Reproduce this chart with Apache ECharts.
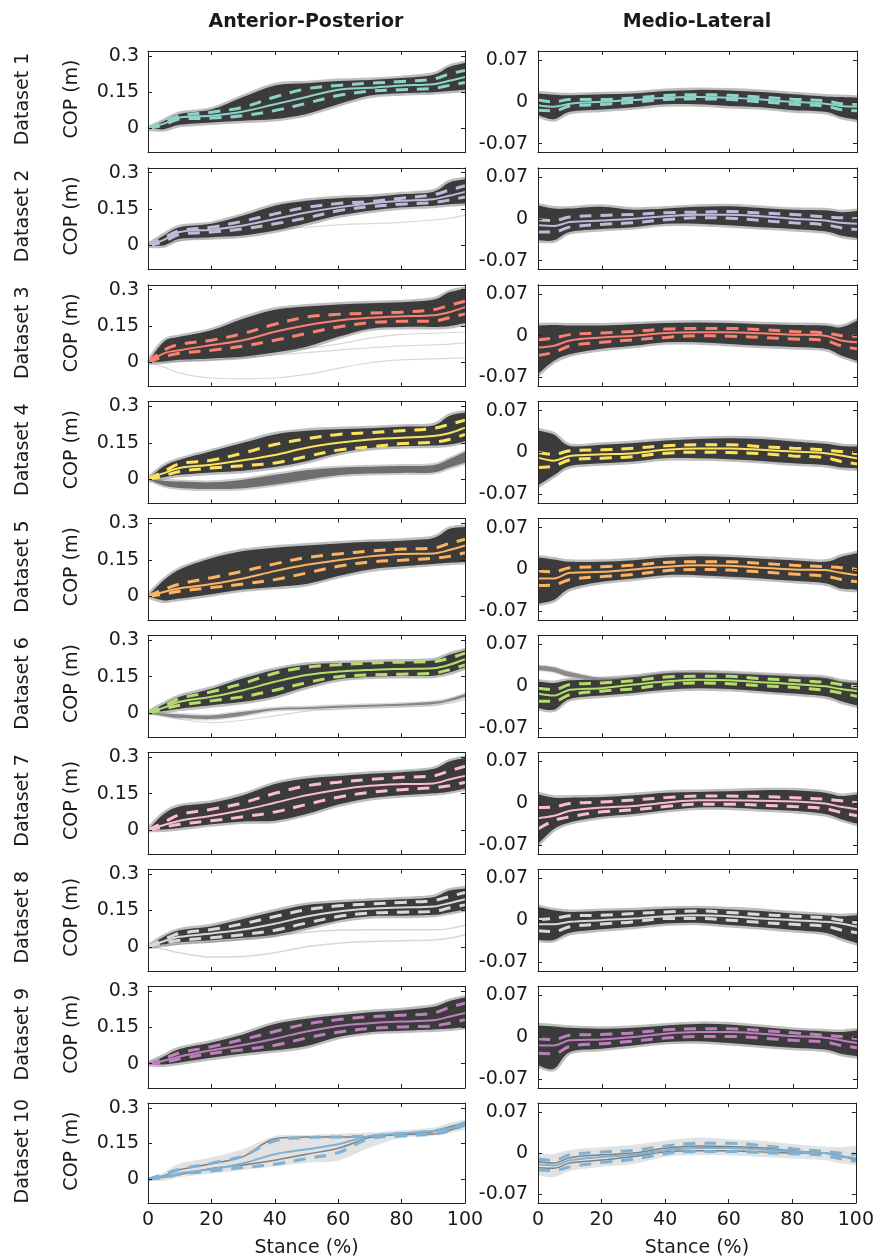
<!DOCTYPE html>
<html>
<head>
<meta charset="utf-8">
<script src="https://cdn.jsdelivr.net/npm/echarts@6/dist/echarts.min.js"></script>
<style>html,body{margin:0;padding:0;background:#fff}#c{width:877px;height:1259px}</style>
</head>
<body>
<div id="c"></div>
<script>
// ---------- data ----------
const X = [0,5,10,20,30,40,50,60,70,80,90,95,100];
const DATASETS = ['Dataset 1','Dataset 2','Dataset 3','Dataset 4','Dataset 5','Dataset 6','Dataset 7','Dataset 8','Dataset 9','Dataset 10'];
const COLORS = ['#8dd3c7','#bebada','#fb8072','#fbe35c','#fdb462','#b3de69','#fbbad6','#d9d9d9','#bc80bd','#80b1d3'];
const AP_TICKS = [0,0.15,0.3];
const ML_TICKS = [-0.07,0,0.07];

const AP_MEAN = [
 [0,0.02,0.045,0.053,0.07,0.10,0.13,0.16,0.168,0.178,0.183,0.197,0.213],
 [0,0.023,0.055,0.065,0.082,0.109,0.136,0.157,0.173,0.184,0.191,0.205,0.221],
 [0,0.037,0.05,0.071,0.091,0.126,0.153,0.173,0.184,0.19,0.194,0.207,0.228],
 [0,0.025,0.046,0.06,0.078,0.1,0.13,0.15,0.164,0.171,0.178,0.19,0.213],
 [0,0.017,0.032,0.05,0.073,0.103,0.129,0.148,0.164,0.174,0.176,0.19,0.209],
 [0,0.022,0.046,0.067,0.094,0.129,0.157,0.171,0.178,0.182,0.185,0.199,0.222],
 [0,0.02,0.038,0.058,0.082,0.112,0.143,0.166,0.182,0.189,0.192,0.208,0.223],
 [0,0.023,0.041,0.055,0.071,0.095,0.125,0.146,0.157,0.162,0.166,0.18,0.196],
 [0,0.012,0.03,0.055,0.077,0.103,0.133,0.156,0.167,0.174,0.179,0.194,0.209],
 [0,0.011,0.025,0.042,0.067,0.105,0.126,0.147,0.182,0.193,0.203,0.213,0.231]
];
const AP_SD_HI = [
 [0,0.025,0.053,0.067,0.088,0.13,0.164,0.178,0.187,0.194,0.204,0.225,0.24],
 [0,0.031,0.061,0.075,0.1,0.13,0.157,0.173,0.181,0.195,0.209,0.228,0.246],
 [0,0.05,0.074,0.091,0.119,0.157,0.187,0.198,0.203,0.207,0.217,0.235,0.252],
 [0,0.032,0.064,0.078,0.108,0.143,0.167,0.185,0.192,0.2,0.21,0.226,0.244],
 [0,0.027,0.05,0.076,0.103,0.133,0.159,0.174,0.186,0.194,0.198,0.217,0.235],
 [0,0.028,0.06,0.0875,0.122,0.164,0.189,0.199,0.206,0.21,0.2125,0.226,0.247],
 [0,0.031,0.063,0.085,0.112,0.151,0.182,0.197,0.208,0.217,0.223,0.243,0.263],
 [0,0.03,0.055,0.071,0.095,0.125,0.153,0.169,0.177,0.183,0.191,0.207,0.224],
 [0,0.02,0.045,0.07,0.1,0.133,0.164,0.182,0.194,0.2,0.209,0.232,0.25],
 [0,0.021,0.042,0.067,0.098,0.161,0.175,0.178,0.182,0.192,0.203,0.217,0.238]
];
const AP_SD_LO = [
 [0,0.015,0.039,0.043,0.053,0.074,0.104,0.136,0.154,0.16,0.166,0.178,0.19],
 [0,0.016,0.045,0.055,0.068,0.089,0.113,0.143,0.16,0.17,0.177,0.187,0.2],
 [0,0.023,0.037,0.05,0.067,0.091,0.119,0.146,0.164,0.169,0.17,0.184,0.2],
 [0,0.014,0.032,0.046,0.056,0.067,0.094,0.12,0.133,0.147,0.153,0.164,0.185],
 [0,0.008,0.02,0.035,0.05,0.068,0.095,0.123,0.141,0.148,0.156,0.164,0.179],
 [0,0.017,0.032,0.05,0.067,0.094,0.125,0.15,0.157,0.16,0.164,0.178,0.199],
 [0,0.012,0.023,0.038,0.054,0.074,0.105,0.135,0.155,0.166,0.174,0.182,0.197],
 [0,0.016,0.027,0.037,0.05,0.068,0.098,0.125,0.139,0.143,0.146,0.16,0.173],
 [0,0.005,0.02,0.042,0.058,0.076,0.106,0.13,0.145,0.152,0.156,0.167,0.182],
 [0,0.007,0.021,0.035,0.049,0.063,0.087,0.112,0.171,0.182,0.189,0.203,0.227]
];
const AP_BAND_HI = [
 [0,0.03,0.06,0.078,0.13,0.178,0.187,0.196,0.2,0.208,0.222,0.254,0.27],
 [0,0.041,0.075,0.089,0.123,0.164,0.184,0.195,0.2,0.211,0.222,0.26,0.273],
 [0,0.085,0.105,0.132,0.18,0.217,0.23,0.239,0.244,0.248,0.258,0.289,0.303],
 [0,0.053,0.08,0.115,0.15,0.185,0.2,0.206,0.21,0.217,0.222,0.261,0.275],
 [0,0.065,0.11,0.156,0.186,0.2,0.209,0.217,0.224,0.229,0.24,0.277,0.285],
 [0,0.036,0.067,0.1,0.143,0.178,0.199,0.206,0.21,0.2125,0.217,0.24,0.258],
 [0,0.066,0.097,0.112,0.143,0.189,0.212,0.223,0.232,0.238,0.251,0.282,0.297],
 [0,0.041,0.068,0.085,0.115,0.146,0.173,0.183,0.19,0.196,0.205,0.232,0.241],
 [0,0.03,0.061,0.088,0.121,0.164,0.186,0.2,0.212,0.221,0.235,0.258,0.273],
 [0,0.02,0.06,0.085,0.12,0.175,0.18,0.185,0.19,0.2,0.21,0.23,0.245]
];
const AP_BAND_LO = [
 [0,-0.003,0.015,0.025,0.032,0.039,0.06,0.1,0.136,0.146,0.15,0.155,0.16],
 [0,0,0.027,0.034,0.041,0.061,0.091,0.123,0.143,0.157,0.164,0.17,0.173],
 [0,0.003,0.01,0.016,0.023,0.04,0.064,0.105,0.139,0.146,0.146,0.149,0.162],
 [0,0.008,0.018,0.028,0.035,0.05,0.074,0.108,0.129,0.136,0.139,0.143,0.157],
 [0,-0.018,-0.01,0.008,0.027,0.038,0.05,0.083,0.11,0.123,0.133,0.138,0.141],
 [0,0.008,0.018,0.032,0.046,0.069,0.108,0.139,0.15,0.153,0.154,0.167,0.189],
 [0,0.002,0.008,0.023,0.035,0.038,0.066,0.105,0.131,0.143,0.151,0.158,0.171],
 [0,0.01,0.019,0.027,0.037,0.05,0.078,0.109,0.126,0.128,0.132,0.142,0.155],
 [0,-0.003,0.005,0.024,0.042,0.055,0.073,0.11,0.13,0.136,0.141,0.145,0.152],
 [0,0,0.015,0.03,0.045,0.06,0.075,0.085,0.14,0.18,0.19,0.2,0.215]
];

const ML_MEAN = [
 [-0.0055,-0.008,-0.003,0,0.003,0.007,0.008,0.007,0.004,0,-0.003,-0.007,-0.008],
 [-0.011,-0.012,-0.0056,-0.003,0,0.004,0.0067,0.0067,0.004,0,-0.003,-0.0067,-0.0084],
 [-0.02,-0.017,-0.008,-0.003,0,0.0045,0.0056,0.0056,0.004,0.0017,0,-0.008,-0.011],
 [-0.0085,-0.0136,-0.0056,-0.003,-0.001,0.0045,0.0068,0.0068,0.0045,0.0017,-0.001,-0.005,-0.0096],
 [-0.015,-0.015,-0.0056,-0.004,0,0.0045,0.007,0.006,0.003,0,-0.001,-0.0056,-0.0095],
 [-0.012,-0.0155,-0.0056,-0.003,0.003,0.008,0.011,0.01,0.007,0.004,0,-0.0045,-0.008],
 [-0.025,-0.021,-0.0127,-0.007,-0.0044,0.001,0.005,0.005,0.004,0.003,-0.0005,-0.006,-0.01],
 [-0.007,-0.007,-0.0028,0,0.0028,0.0066,0.0083,0.0066,0.0028,0,-0.0028,-0.0055,-0.011],
 [-0.014,-0.014,-0.0055,-0.004,0,0.0055,0.0083,0.0083,0.0055,0.0017,-0.001,-0.0055,-0.01],
 [-0.0196,-0.021,-0.0123,-0.0067,-0.0028,0.0045,0.0084,0.0084,0.006,0.0028,0,-0.005,-0.0084]
];
const ML_SD_HI = [
 [0.003,0,0.004,0.004,0.0066,0.0105,0.012,0.011,0.008,0.0044,0.0017,-0.003,-0.004],
 [-0.0017,-0.003,0.003,0.0056,0.0073,0.01,0.011,0.012,0.0095,0.0073,0.003,0.0017,0],
 [-0.007,-0.004,0.0017,0.0045,0.007,0.011,0.012,0.012,0.01,0.007,0.0045,0,-0.001],
 [0,-0.003,0.003,0.0045,0.0073,0.0113,0.013,0.013,0.01,0.0073,0.0045,0.0017,-0.002],
 [-0.002,-0.004,0.003,0.0045,0.007,0.0117,0.0128,0.0128,0.01,0.007,0.0045,0.003,0],
 [-0.003,-0.0056,0.003,0.0056,0.0095,0.0155,0.0167,0.0167,0.0128,0.01,0.0067,0.003,-0.001],
 [-0.007,-0.006,-0.0005,0.002,0.0055,0.0094,0.012,0.012,0.011,0.0094,0.0066,0.004,0.001],
 [0.001,0.0028,0.0072,0.0083,0.011,0.0138,0.0154,0.0127,0.0094,0.0066,0.0039,0,-0.0044],
 [-0.003,-0.0044,0.003,0.0044,0.007,0.012,0.0139,0.0139,0.011,0.007,0.003,0.001,-0.003],
 [-0.0106,-0.0123,-0.0028,0.0017,0.0045,0.0118,0.0168,0.0168,0.0129,0.0073,0.0028,0,-0.0022]
];
const ML_SD_LO = [
 [-0.014,-0.015,-0.007,-0.0044,-0.0005,0.004,0.005,0.004,0,-0.004,-0.007,-0.013,-0.015],
 [-0.022,-0.022,-0.014,-0.0095,-0.0067,-0.0017,0.0017,0.001,-0.003,-0.0067,-0.01,-0.015,-0.018],
 [-0.033,-0.028,-0.017,-0.011,-0.007,-0.003,0,-0.001,-0.003,-0.0056,-0.008,-0.017,-0.022],
 [-0.025,-0.0226,-0.0124,-0.0096,-0.0068,-0.001,0.0006,0,-0.002,-0.0056,-0.0085,-0.015,-0.019],
 [-0.027,-0.026,-0.0167,-0.012,-0.0083,-0.002,0,-0.001,-0.004,-0.0078,-0.011,-0.0167,-0.0205],
 [-0.025,-0.025,-0.014,-0.008,-0.004,0.003,0.0056,0.0045,0.001,-0.0017,-0.0067,-0.011,-0.0167],
 [-0.043,-0.029,-0.0227,-0.0144,-0.011,-0.0055,-0.0017,-0.0017,-0.0033,-0.0055,-0.009,-0.0155,-0.021],
 [-0.0176,-0.019,-0.011,-0.0066,-0.0028,0.0028,0.0028,0,-0.0039,-0.007,-0.0099,-0.0165,-0.021],
 [-0.027,-0.028,-0.0155,-0.011,-0.0067,-0.0017,0.001,0.001,-0.0017,-0.0055,-0.0083,-0.014,-0.0178],
 [-0.029,-0.03,-0.0235,-0.016,-0.0106,-0.0011,0.0028,0.0028,0.0006,-0.0011,-0.004,-0.0095,-0.014]
];
const ML_BAND_HI = [
 [0.014,0.012,0.011,0.0127,0.014,0.018,0.02,0.019,0.0165,0.0127,0.009,0.008,0.007],
 [0.022,0.017,0.017,0.02,0.015,0.017,0.02,0.021,0.018,0.015,0.014,0.011,0.013],
 [0.017,0.018,0.017,0.017,0.019,0.021,0.022,0.021,0.019,0.018,0.017,0.014,0.025],
 [0.037,0.03,0.011,0.013,0.016,0.02,0.0226,0.024,0.0226,0.0186,0.0147,0.011,0.01],
 [0.02,0.0167,0.0128,0.0128,0.0155,0.02,0.022,0.021,0.018,0.0155,0.0128,0.021,0.027],
 [0.008,0.0056,0.01,0.012,0.0155,0.022,0.023,0.022,0.0195,0.0167,0.014,0.008,0.0056],
 [0.015,0.0094,0.0094,0.0105,0.0133,0.0177,0.019,0.02,0.0216,0.0216,0.0177,0.012,0.015],
 [0.022,0.0165,0.0138,0.0154,0.0165,0.019,0.02,0.018,0.0154,0.011,0.0083,0.0066,0.0083],
 [0.0194,0.0178,0.0155,0.0139,0.0155,0.0194,0.022,0.021,0.0167,0.012,0.0094,0.0083,0.011],
 [-0.004,-0.004,0.0028,0.0073,0.0118,0.0185,0.024,0.021,0.0185,0.0129,0.0084,0.0073,0.01]
];
const ML_BAND_LO = [
 [-0.022,-0.029,-0.0165,-0.0127,-0.009,-0.004,-0.004,-0.007,-0.009,-0.014,-0.0165,-0.025,-0.03],
 [-0.036,-0.036,-0.022,-0.017,-0.014,-0.0084,-0.0084,-0.011,-0.014,-0.017,-0.021,-0.028,-0.032],
 [-0.064,-0.042,-0.031,-0.022,-0.017,-0.011,-0.011,-0.014,-0.017,-0.019,-0.022,-0.033,-0.042],
 [-0.055,-0.038,-0.0226,-0.018,-0.015,-0.0096,-0.0096,-0.011,-0.014,-0.018,-0.021,-0.025,-0.0265],
 [-0.057,-0.051,-0.032,-0.0205,-0.015,-0.0095,-0.0095,-0.012,-0.015,-0.019,-0.023,-0.032,-0.034],
 [-0.036,-0.039,-0.021,-0.0155,-0.011,-0.0056,-0.003,-0.0045,-0.008,-0.012,-0.0167,-0.025,-0.032],
 [-0.068,-0.043,-0.032,-0.0227,-0.018,-0.0116,-0.007,-0.007,-0.01,-0.0127,-0.018,-0.0266,-0.034],
 [-0.033,-0.033,-0.021,-0.0154,-0.011,-0.0055,-0.0044,-0.0083,-0.012,-0.0165,-0.021,-0.03,-0.0386],
 [-0.047,-0.053,-0.025,-0.0194,-0.014,-0.0083,-0.0072,-0.01,-0.014,-0.0178,-0.021,-0.028,-0.032],
 [-0.035,-0.0386,-0.028,-0.021,-0.016,-0.004,-0.0011,-0.0011,-0.004,-0.0067,-0.0095,-0.015,-0.018]
];

// secondary trial clusters (mid gray) and stray trials (light gray)
const AP4_CLUSTER_HI = [0,-0.006,-0.01,-0.013,-0.002,0.018,0.037,0.047,0.051,0.054,0.058,0.082,0.112];
const AP4_CLUSTER_LO = [0,-0.026,-0.036,-0.041,-0.037,-0.022,-0.002,0.016,0.023,0.026,0.028,0.048,0.068];
const AP6_CLUSTER_HI = [0,-0.002,-0.006,-0.01,0.005,0.02,0.024,0.03,0.034,0.038,0.046,0.058,0.078];
const AP6_CLUSTER_LO = [0,-0.012,-0.02,-0.025,-0.01,0.012,0.016,0.022,0.026,0.03,0.036,0.048,0.066];
const ML6_CLUSTER_HI = [0.035,0.032,0.024,0.014,0.0155,0.022,0.023,0.022,0.0195,0.0167,0.014,0.008,0.0056];
const ML6_CLUSTER_LO = [0.027,0.024,0.016,0.011,0.0155,0.022,0.023,0.022,0.0195,0.0167,0.014,0.008,0.0056];
const AP2_STRAY = [0,0.005,0.02,0.035,0.05,0.065,0.075,0.085,0.09,0.095,0.105,0.112,0.125];
const AP3_STRAY_A = [0,-0.02,-0.045,-0.065,-0.068,-0.065,-0.05,-0.025,-0.002,0.01,0.014,0.016,0.018];
const AP3_STRAY_B = [0,0.002,0.005,0.01,0.02,0.03,0.04,0.05,0.06,0.068,0.072,0.075,0.08];
const AP3_STRAY_C = [0,0.01,0.02,0.03,0.04,0.05,0.058,0.075,0.1,0.115,0.12,0.122,0.125];
const AP6_STRAY = [0,-0.01,-0.025,-0.04,-0.03,-0.012,0.008,0.015,0.02,0.025,0.03,0.04,0.055];
const AP8_STRAY_A = [0,-0.01,-0.025,-0.042,-0.04,-0.025,0.0,0.015,0.022,0.025,0.028,0.035,0.05];
const AP8_STRAY_B = [0,0.005,0.01,0.02,0.03,0.045,0.06,0.068,0.07,0.07,0.07,0.075,0.09];
const AP10_TRIAL_A = [0,0.015,0.04,0.065,0.095,0.17,0.178,0.178,0.18,0.19,0.2,0.22,0.235];
const AP10_TRIAL_B = [0,0.008,0.02,0.045,0.06,0.08,0.105,0.13,0.175,0.188,0.19,0.205,0.228];
const ML10_TRIAL_A = [-0.015,-0.017,-0.008,-0.003,0.0,0.008,0.012,0.011,0.009,0.004,0.0,-0.004,-0.012];
const ML10_TRIAL_B = [-0.025,-0.026,-0.017,-0.012,-0.006,0.002,0.004,0.004,0.002,0.0,0.0,-0.006,-0.01];

// ---------- build ----------
const FONT = 'DejaVu Sans';
const TXT = '#1a1a1a';
const LEFT = [148, 538], WIDTH = [317, 319];
const TOP0 = 51, STEP = 116.9, HEIGHT = 101.7;
const SM = 0.35;
const grids = [], xAxes = [], yAxes = [], series = [], graphics = [];

function pairs(arr){ return X.map((x,i)=>[x, arr[i]]); }

// Catmull-Rom spline through screen points -> cubic bezier path commands
function splineCmds(pts){
  let d = '';
  for (let i = 0; i < pts.length - 1; i++){
    const p0 = pts[i-1] || pts[i], p1 = pts[i], p2 = pts[i+1], p3 = pts[i+2] || pts[i+1];
    const c1x = p1[0] + (p2[0]-p0[0])/6, c1y = p1[1] + (p2[1]-p0[1])/6;
    const c2x = p2[0] - (p3[0]-p1[0])/6, c2y = p2[1] - (p3[1]-p1[1])/6;
    d += ' C' + c1x.toFixed(2) + ',' + c1y.toFixed(2) + ' ' + c2x.toFixed(2) + ',' + c2y.toFixed(2) + ' ' + p2[0].toFixed(2) + ',' + p2[1].toFixed(2);
  }
  return d;
}

// band of trials: filled region between lo and hi, with a soft translucent halo as edge
function addBand(k, hi, lo, color, halo, haloWidth){
  series.push({type:'custom', coordinateSystem:'cartesian2d', xAxisIndex:2*k, yAxisIndex:2*k,
    data:[[0, lo[0]]], silent:true, z:2, clip:true,
    renderItem:function(params, api){
      const up = X.map((x,i)=>api.coord([x, hi[i]]));
      const dn = X.map((x,i)=>api.coord([x, lo[i]])).reverse();
      const d = 'M' + up[0][0].toFixed(2) + ',' + up[0][1].toFixed(2) + splineCmds(up) +
                ' L' + dn[0][0].toFixed(2) + ',' + dn[0][1].toFixed(2) + splineCmds(dn) + ' Z';
      return {type:'group', children:[
        {type:'path', shape:{pathData:d}, style:{fill:null, stroke:halo, lineWidth:haloWidth, lineJoin:'round'}},
        {type:'path', shape:{pathData:d}, style:{fill:color, stroke:null, lineWidth:0}}
      ]};
    }});
}
function addLine(k, arr, color, width, type, z){
  series.push({type:'line', xAxisIndex:2*k, yAxisIndex:2*k, data:pairs(arr), smooth:SM, symbol:'none', silent:true,
    z:z, lineStyle:{color:color, width:width, type:type, cap:'butt'}});
}

for (let r = 0; r < 10; r++){
  for (let c = 0; c < 2; c++){
    const k = r*2 + c;
    const top = TOP0 + r*STEP;
    grids.push({left:LEFT[c], top:top, width:WIDTH[c], height:HEIGHT, containLabel:false});
    const last = r === 9;
    const axLine = {show:true, onZero:false, lineStyle:{color:'#222', width:1}};
    const tick = {show:true, inside:true, length:4, lineStyle:{color:'#222', width:1}};
    xAxes.push({gridIndex:k, type:'value', min:0, max:100, interval:20, position:'bottom', z:10,
      axisLine:axLine, axisTick:tick, splitLine:{show:false},
      axisLabel:{show:last, fontFamily:FONT, fontSize:19, color:TXT, margin:8},
      name:last?'Stance (%)':'', nameLocation:'middle', nameGap:36,
      nameTextStyle:{fontFamily:FONT, fontSize:19, color:TXT}});
    xAxes.push({gridIndex:k, type:'value', min:0, max:100, interval:20, position:'top', z:10,
      axisLine:axLine, axisTick:tick, splitLine:{show:false}, axisLabel:{show:false}});
    const ap = c === 0;
    const ticks = ap ? AP_TICKS : ML_TICKS;
    yAxes.push({gridIndex:k, type:'value', min:ap?-0.1:-0.085, max:ap?0.32:0.085, position:'left', z:10,
      axisLine:axLine, axisTick:Object.assign({customValues:ticks}, tick), splitLine:{show:false},
      axisLabel:{customValues:ticks, fontFamily:FONT, fontSize:19, color:TXT, margin:ap?9:10}});
    yAxes.push({gridIndex:k, type:'value', min:ap?-0.1:-0.085, max:ap?0.32:0.085, position:'right', z:10,
      axisLine:axLine, axisTick:Object.assign({customValues:ticks}, tick), splitLine:{show:false},
      axisLabel:{show:false}});

    const color = COLORS[r];
    const mean = ap ? AP_MEAN[r] : ML_MEAN[r];
    const hi = ap ? AP_SD_HI[r] : ML_SD_HI[r];
    const lo = ap ? AP_SD_LO[r] : ML_SD_LO[r];
    const bhi = ap ? AP_BAND_HI[r] : ML_BAND_HI[r];
    const blo = ap ? AP_BAND_LO[r] : ML_BAND_LO[r];

    const LIGHT = '#d8d8d8';
    if (ap && r===1) addLine(k, AP2_STRAY, LIGHT, 1.2, 'solid', 1);
    if (ap && r===2){ addLine(k, AP3_STRAY_A, LIGHT, 1.2, 'solid', 1); addLine(k, AP3_STRAY_B, LIGHT, 1.2, 'solid', 1); addLine(k, AP3_STRAY_C, LIGHT, 1.2, 'solid', 1); }
    if (ap && r===5) addLine(k, AP6_STRAY, LIGHT, 1.2, 'solid', 1);
    if (ap && r===7){ addLine(k, AP8_STRAY_A, LIGHT, 1.5, 'solid', 1); addLine(k, AP8_STRAY_B, LIGHT, 1.5, 'solid', 1); }

    if (r === 9){
      addBand(k, bhi, blo, '#e2e2e2', 'rgba(200,200,200,0.5)', 3);
      addLine(k, ap?AP10_TRIAL_A:ML10_TRIAL_A, '#808080', 1.5, 'solid', 3);
      addLine(k, ap?AP10_TRIAL_B:ML10_TRIAL_B, '#808080', 1.5, 'solid', 3);
    } else {
      addBand(k, bhi, blo, '#3b3b3b', 'rgba(70,70,70,0.35)', 5);
    }
    if (ap && r===3) addBand(k, AP4_CLUSTER_HI, AP4_CLUSTER_LO, '#6e6e6e', 'rgba(110,110,110,0.35)', 4);
    if (ap && r===5) addBand(k, AP6_CLUSTER_HI, AP6_CLUSTER_LO, '#858585', 'rgba(130,130,130,0.3)', 3);
    if (!ap && r===5) addBand(k, ML6_CLUSTER_HI, ML6_CLUSTER_LO, '#8c8c8c', 'rgba(140,140,140,0.3)', 2);

    addLine(k, hi, color, 3, [12,9], 5);
    addLine(k, lo, color, 3, [12,9], 5);
    addLine(k, mean, color, 2, 'solid', 6);

    if (c === 0){
      const cy = top + 48;
      graphics.push({type:'text', x:23, y:cy, rotation:Math.PI/2,
        style:{text:DATASETS[r], font:'19px "' + FONT + '"', fill:TXT, textAlign:'center', textVerticalAlign:'middle'}});
      graphics.push({type:'text', x:72, y:cy, rotation:Math.PI/2,
        style:{text:'COP (m)', font:'19px "' + FONT + '"', fill:TXT, textAlign:'center', textVerticalAlign:'middle'}});
    }
  }
}
graphics.push({type:'text', x:306, y:22, style:{text:'Anterior-Posterior', font:'bold 19px "' + FONT + '"', fill:TXT, textAlign:'center', textVerticalAlign:'middle'}});
graphics.push({type:'text', x:697, y:22, style:{text:'Medio-Lateral', font:'bold 19px "' + FONT + '"', fill:TXT, textAlign:'center', textVerticalAlign:'middle'}});

const chart = echarts.init(document.getElementById('c'), null, {renderer:'canvas'});
chart.setOption({
  animation:false,
  backgroundColor:'#ffffff',
  grid:grids, xAxis:xAxes, yAxis:yAxes, series:series, graphic:graphics
});
</script>
</body>
</html>
